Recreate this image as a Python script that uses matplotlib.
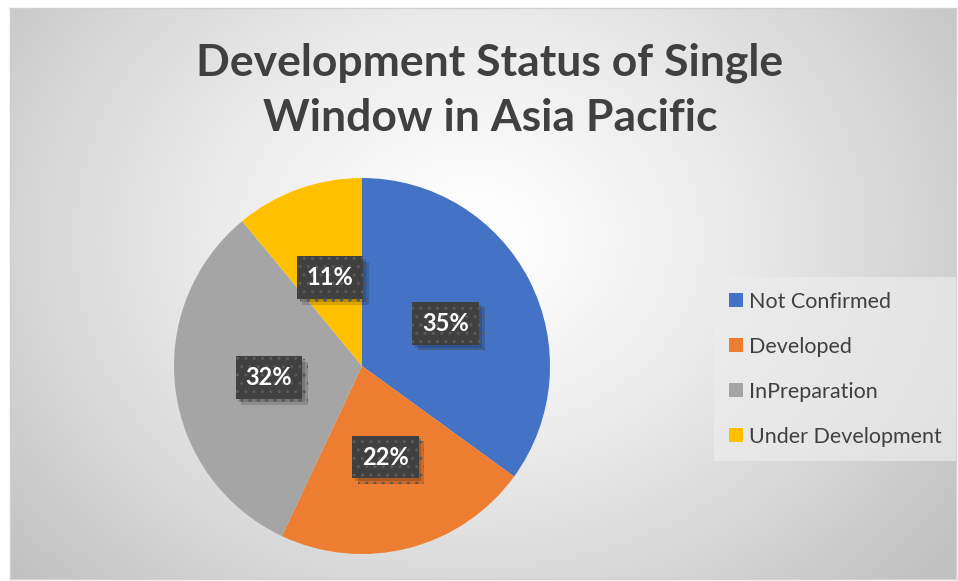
import numpy as np
import matplotlib.pyplot as plt
import matplotlib.patheffects as pe
from matplotlib.patches import Patch

# data
labels = ['Not Confirmed', 'Developed', 'InPreparation', 'Under Development']
shares = [35, 22, 32, 11]
colors = ['#4472C4', '#ED7D31', '#A5A5A5', '#FFC000']
title = 'Development Status of Single\nWindow in Asia Pacific'

W, H = 958, 581
fig = plt.figure(figsize=(W / 100, H / 100), dpi=100)
fig.patch.set_facecolor('white')

# radial gradient background of the chart area
x0, y0, x1, y1 = 10, 8, 956, 579
bg = fig.add_axes([x0 / W, 1 - y1 / H, (x1 - x0) / W, (y1 - y0) / H])
yy, xx = np.mgrid[0:(y1 - y0), 0:(x1 - x0)]
cx, cy = 460, 230
d = np.sqrt(((xx - cx) / 600.0) ** 2 + ((yy - cy) / 500.0) ** 2)
g = 1.0 - 0.24 * np.clip(d, 0, 1) ** 1.3
bg.imshow(np.dstack([g, g, g]), aspect='auto', interpolation='bilinear')
bg.set_xticks([])
bg.set_yticks([])
for s in bg.spines.values():
    s.set_color('#d0d0d0')
    s.set_linewidth(1)

# pie
r = 188
pcx, pcy = 362, 366
ax = fig.add_axes([(pcx - r) / W, 1 - (pcy + r) / H, 2 * r / W, 2 * r / H])
wedges, texts, autotexts = ax.pie(shares, colors=colors, startangle=90, counterclock=False,
                                  autopct='%d%%', pctdistance=0.5, frame=False,
                                  wedgeprops=dict(linewidth=0),
                                  textprops=dict(color='white', fontsize=17, fontweight='bold',
                                                 family=['Lato', 'DejaVu Sans']))
ax.set_aspect('auto')
ax.set_xlim(-1, 1)
ax.set_ylim(-1, 1)
ax.axis('off')
for t in autotexts:
    t.set_bbox(dict(boxstyle='square,pad=0.42', facecolor='#404040', edgecolor='#5a5a5a',
                    linewidth=0, hatch='..'))
    t.get_bbox_patch().set_path_effects([
        pe.withSimplePatchShadow(offset=(4, -4), shadow_rgbFace='#000000', alpha=0.15),
        pe.withSimplePatchShadow(offset=(2, -2), shadow_rgbFace='#000000', alpha=0.15),
        pe.Normal()])

# title
fig.text(490 / W, 1 - 90 / H, title, ha='center', va='center', fontsize=32,
         fontweight='bold', color='#404040', linespacing=1.45, family=['Lato', 'DejaVu Sans'])

# legend
handles = [Patch(facecolor=c, edgecolor='none') for c in colors]
leg = fig.legend(handles, labels, loc='upper left',
                 bbox_to_anchor=(714 / W, 1 - 277 / H), frameon=True, fancybox=False,
                 prop=dict(family=['Lato', 'DejaVu Sans'], size=15.5),
                 handlelength=0.65, handleheight=0.65, handletextpad=0.3,
                 labelspacing=1.16, borderpad=0.68, borderaxespad=0)
leg.get_frame().set_facecolor('#ececec')
leg.get_frame().set_alpha(0.7)
leg.get_frame().set_linewidth(0)
for t in leg.get_texts():
    t.set_color('#404040')

fig.savefig('out.png', dpi=100)
